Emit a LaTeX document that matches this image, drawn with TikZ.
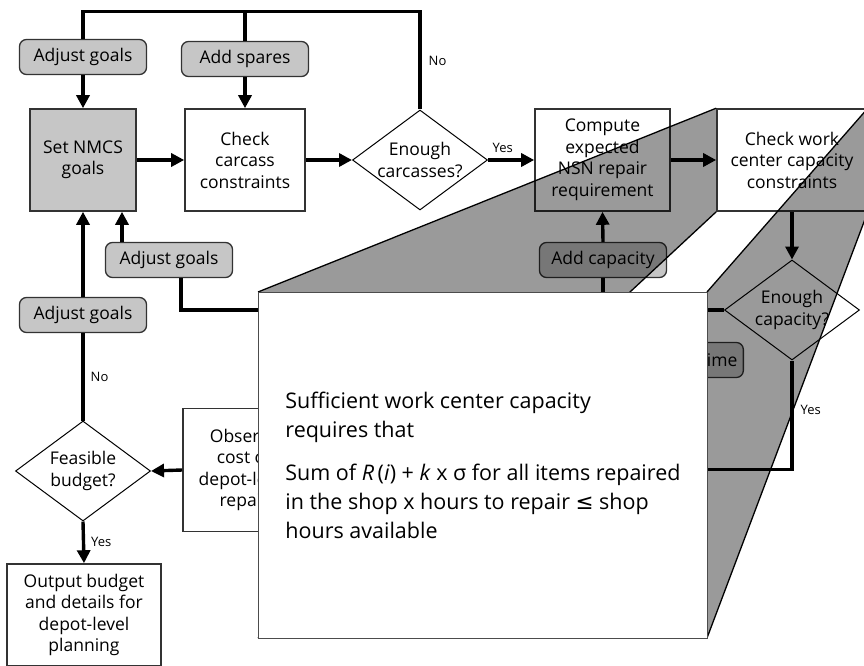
\documentclass[tikz,border=0pt]{standalone}
\usepackage{fontspec}
\setmainfont{Open Sans}
\newfontfamily\symfont{DejaVu Sans}
\usetikzlibrary{shapes.geometric,arrows.meta,calc}
\definecolor{nodegray}{HTML}{C6C6C6}
\definecolor{beamgray}{HTML}{9A9A9A}
\definecolor{edgegray}{HTML}{333333}

\begin{document}
\begin{tikzpicture}[x=1pt,y=-1pt,
  every node/.style={font=\fontsize{17.5}{21.5}\selectfont, align=center, inner sep=0pt},
  box/.style={draw=edgegray, line width=1.6pt, fill=white},
  pill/.style={draw=edgegray, line width=1.3pt, fill=nodegray, rounded corners=7pt,
               minimum width=127pt, minimum height=35pt},
  dia/.style={diamond, draw=black, line width=1pt, fill=white,
              minimum width=135pt, minimum height=100pt},
  flow/.style={line width=3.4pt},
  arr/.style={flow, -{Triangle[length=13pt,width=13pt]}},
  tag/.style={font=\fontsize{13}{15}\selectfont},
  beamline/.style={draw=black, line width=1.3pt},
  calloutbox/.style={draw=black!70, line width=0.9pt, fill=white,
                     minimum width=449pt, minimum height=346pt, anchor=north west,
                     font=\fontsize{21.5}{29}\selectfont, align=left}
]
\useasboundingbox[fill=white] (0,0) rectangle (864,666);

% flowchart nodes
\node[pill] (ag1) at (83,57) {Adjust goals};
\node[pill] (spares) at (245,59) {Add spares};
\node[box, fill=nodegray, minimum width=106pt, minimum height=102pt] (nmcs) at (83,160) {Set NMCS\\goals};
\node[box, minimum width=120pt, minimum height=102pt] (carc) at (245,160) {Check\\carcass\\constraints};
\node[dia, label=center:{Enough\\carcasses?}] (d1) at (420,160) {};
\node[box, minimum width=135pt, minimum height=102pt] (nsn) at (602.5,160) {Compute\\expected\\NSN repair\\requirement};
\node[box, minimum width=150pt, minimum height=102pt] (cw) at (792,160) {Check work\\center capacity\\constraints};
\node[dia, label=center:{Enough\\capacity?}] (d2) at (792,310) {};
\node[pill] (addcap) at (603,260) {Add capacity};
\node[pill, minimum width=0pt, inner xsep=6pt, anchor=east] (overtime) at (744,360) {Add overtime};
\node[pill] (ag2) at (169,260) {Adjust goals};
\node[pill] (ag3) at (83,315) {Adjust goals};
\node[dia, label=center:{Feasible\\budget?}] (d3) at (83,471) {};
\node[box, minimum width=122pt, minimum height=123pt] (obs) at (244,470) {Observe\\cost of\\depot-level\\repair};
\node[box, minimum width=154pt, minimum height=102pt] (out) at (84,615) {Output budget\\and details for\\depot-level\\planning};

% connectors
\draw[flow] (d1.north) -- node[tag, right=7pt]{No} ++(0,-98) coordinate (loopR) -| (ag1.north);
\draw[flow] (loopR -| spares.north) -- (spares.north);
\draw[arr] (ag1.south) -- (nmcs.north);
\draw[arr] (spares.south) -- (carc.north);
\draw[arr] (nmcs.east) -- (carc.west);
\draw[arr] (carc.east) -- (d1.west);
\draw[arr] (d1.east) -- node[tag, above=6pt, pos=0.32]{Yes} (nsn.west);
\draw[arr] (nsn.east) -- (cw.west);
\draw[arr] (cw.south) -- (d2.north);
\draw[arr] (addcap.north) -- (nsn.south);
\draw[flow] (addcap.south) -- (addcap.south |- d2.west);
\draw[flow] (d2.west) -| ([xshift=12pt]ag2.south);
\coordinate (ag2up) at ([xshift=-47pt]ag2.north);
\draw[arr] (ag2up) -- (ag2up |- nmcs.south);
\draw[arr] (ag3.north) -- (nmcs.south);
\draw[flow] (d3.north) -- node[tag, right=6pt]{No} (ag3.south);
\draw[arr] (d3.south) -- node[tag, right=6pt]{Yes} (out.north);
\draw[arr] (obs.west) -- (d3.east);
\draw[arr] (d2.south) -- node[tag, right=7pt, pos=0.45]{Yes} ++(0,109) coordinate (yc) -- (yc -| obs.east);

% callout corners
\coordinate (coNW) at (258,292);
\coordinate (coSE) at (707,638);
\coordinate (coNE) at (coSE |- coNW);
\coordinate (coSW) at (coNW |- coSE);

% projection beam from the work-center box to the callout
\begin{scope}[blend mode=multiply]
  \fill[beamgray] (cw.north west) -- (cw.south west) -- (coSW) -- (coNW) -- cycle;
  \fill[beamgray] (cw.north east) -- (cw.south east) -- (coSE) -- (coNE) -- cycle;
\end{scope}
\draw[beamline] (cw.north west) -- (coNW);
\draw[beamline] (cw.south west) -- (coSW);
\draw[beamline] (cw.north east) -- (coNE);
\draw[beamline] (cw.south east) -- (coSE);

% callout
\node[calloutbox] (co) at (coNW) {Sufficient work center capacity\\
requires that\\[14pt]
Sum of \textit{R}\,(\textit{i}) + \textit{k} x σ for all items repaired\\
in the shop x hours to repair {\symfont≤} shop\\
hours available};
\end{tikzpicture}
\end{document}
